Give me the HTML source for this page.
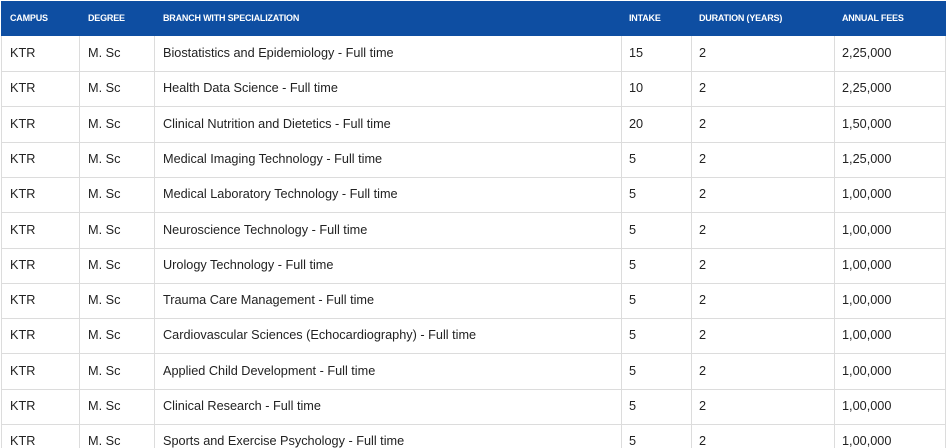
<!DOCTYPE html>
<html><head><style>
body{margin:0;width:947px;height:448px;overflow:hidden;background:#fff;font-family:"Liberation Sans",sans-serif;}
.hd{position:absolute;left:1px;top:1px;width:945px;height:35px;background:#0e4ea2;}
.h{position:absolute;top:13px;color:#fff;font-size:9px;font-weight:bold;letter-spacing:-0.2px}
.vl{position:absolute;top:36px;width:1px;height:412px;background:#dcdcdc}
.hl{position:absolute;left:1px;width:945px;height:1px;background:#dcdcdc}
.c{position:absolute;font-size:12.7px;color:#222;letter-spacing:0;white-space:nowrap}
</style></head><body>
<div class="hd"></div>
<div class="h" style="left:10px">CAMPUS</div>
<div class="h" style="left:88px">DEGREE</div>
<div class="h" style="left:163px">BRANCH WITH SPECIALIZATION</div>
<div class="h" style="left:629px">INTAKE</div>
<div class="h" style="left:699px">DURATION (YEARS)</div>
<div class="h" style="left:842px">ANNUAL FEES</div>
<div class="vl" style="left:1px"></div>
<div class="vl" style="left:79px"></div>
<div class="vl" style="left:154px"></div>
<div class="vl" style="left:621px"></div>
<div class="vl" style="left:691px"></div>
<div class="vl" style="left:834px"></div>
<div class="vl" style="left:945px"></div>
<div id="rows"></div>
<script>
var d=[["Biostatistics and Epidemiology - Full time","15","2,25,000"],["Health Data Science - Full time","10","2,25,000"],["Clinical Nutrition and Dietetics - Full time","20","1,50,000"],["Medical Imaging Technology - Full time","5","1,25,000"],["Medical Laboratory Technology - Full time","5","1,00,000"],["Neuroscience Technology - Full time","5","1,00,000"],["Urology Technology - Full time","5","1,00,000"],["Trauma Care Management - Full time","5","1,00,000"],["Cardiovascular Sciences (Echocardiography) - Full time","5","1,00,000"],["Applied Child Development - Full time","5","1,00,000"],["Clinical Research - Full time","5","1,00,000"],["Sports and Exercise Psychology - Full time","5","1,00,000"]];
var h="";
d.forEach(function(r,i){var t=36+i*35.3;var y=t+10;
if(i<11)h+='<div class="hl" style="top:'+Math.round(t+35)+'px"></div>';
h+='<div class="c" style="left:10px;top:'+y+'px">KTR</div><div class="c" style="left:88px;top:'+y+'px">M. Sc</div><div class="c" style="left:163px;top:'+y+'px">'+r[0]+'</div><div class="c" style="left:629px;top:'+y+'px">'+r[1]+'</div><div class="c" style="left:699px;top:'+y+'px">2</div><div class="c" style="left:842px;top:'+y+'px">'+r[2]+'</div>';});
document.getElementById("rows").innerHTML=h;
</script>
</body></html>
